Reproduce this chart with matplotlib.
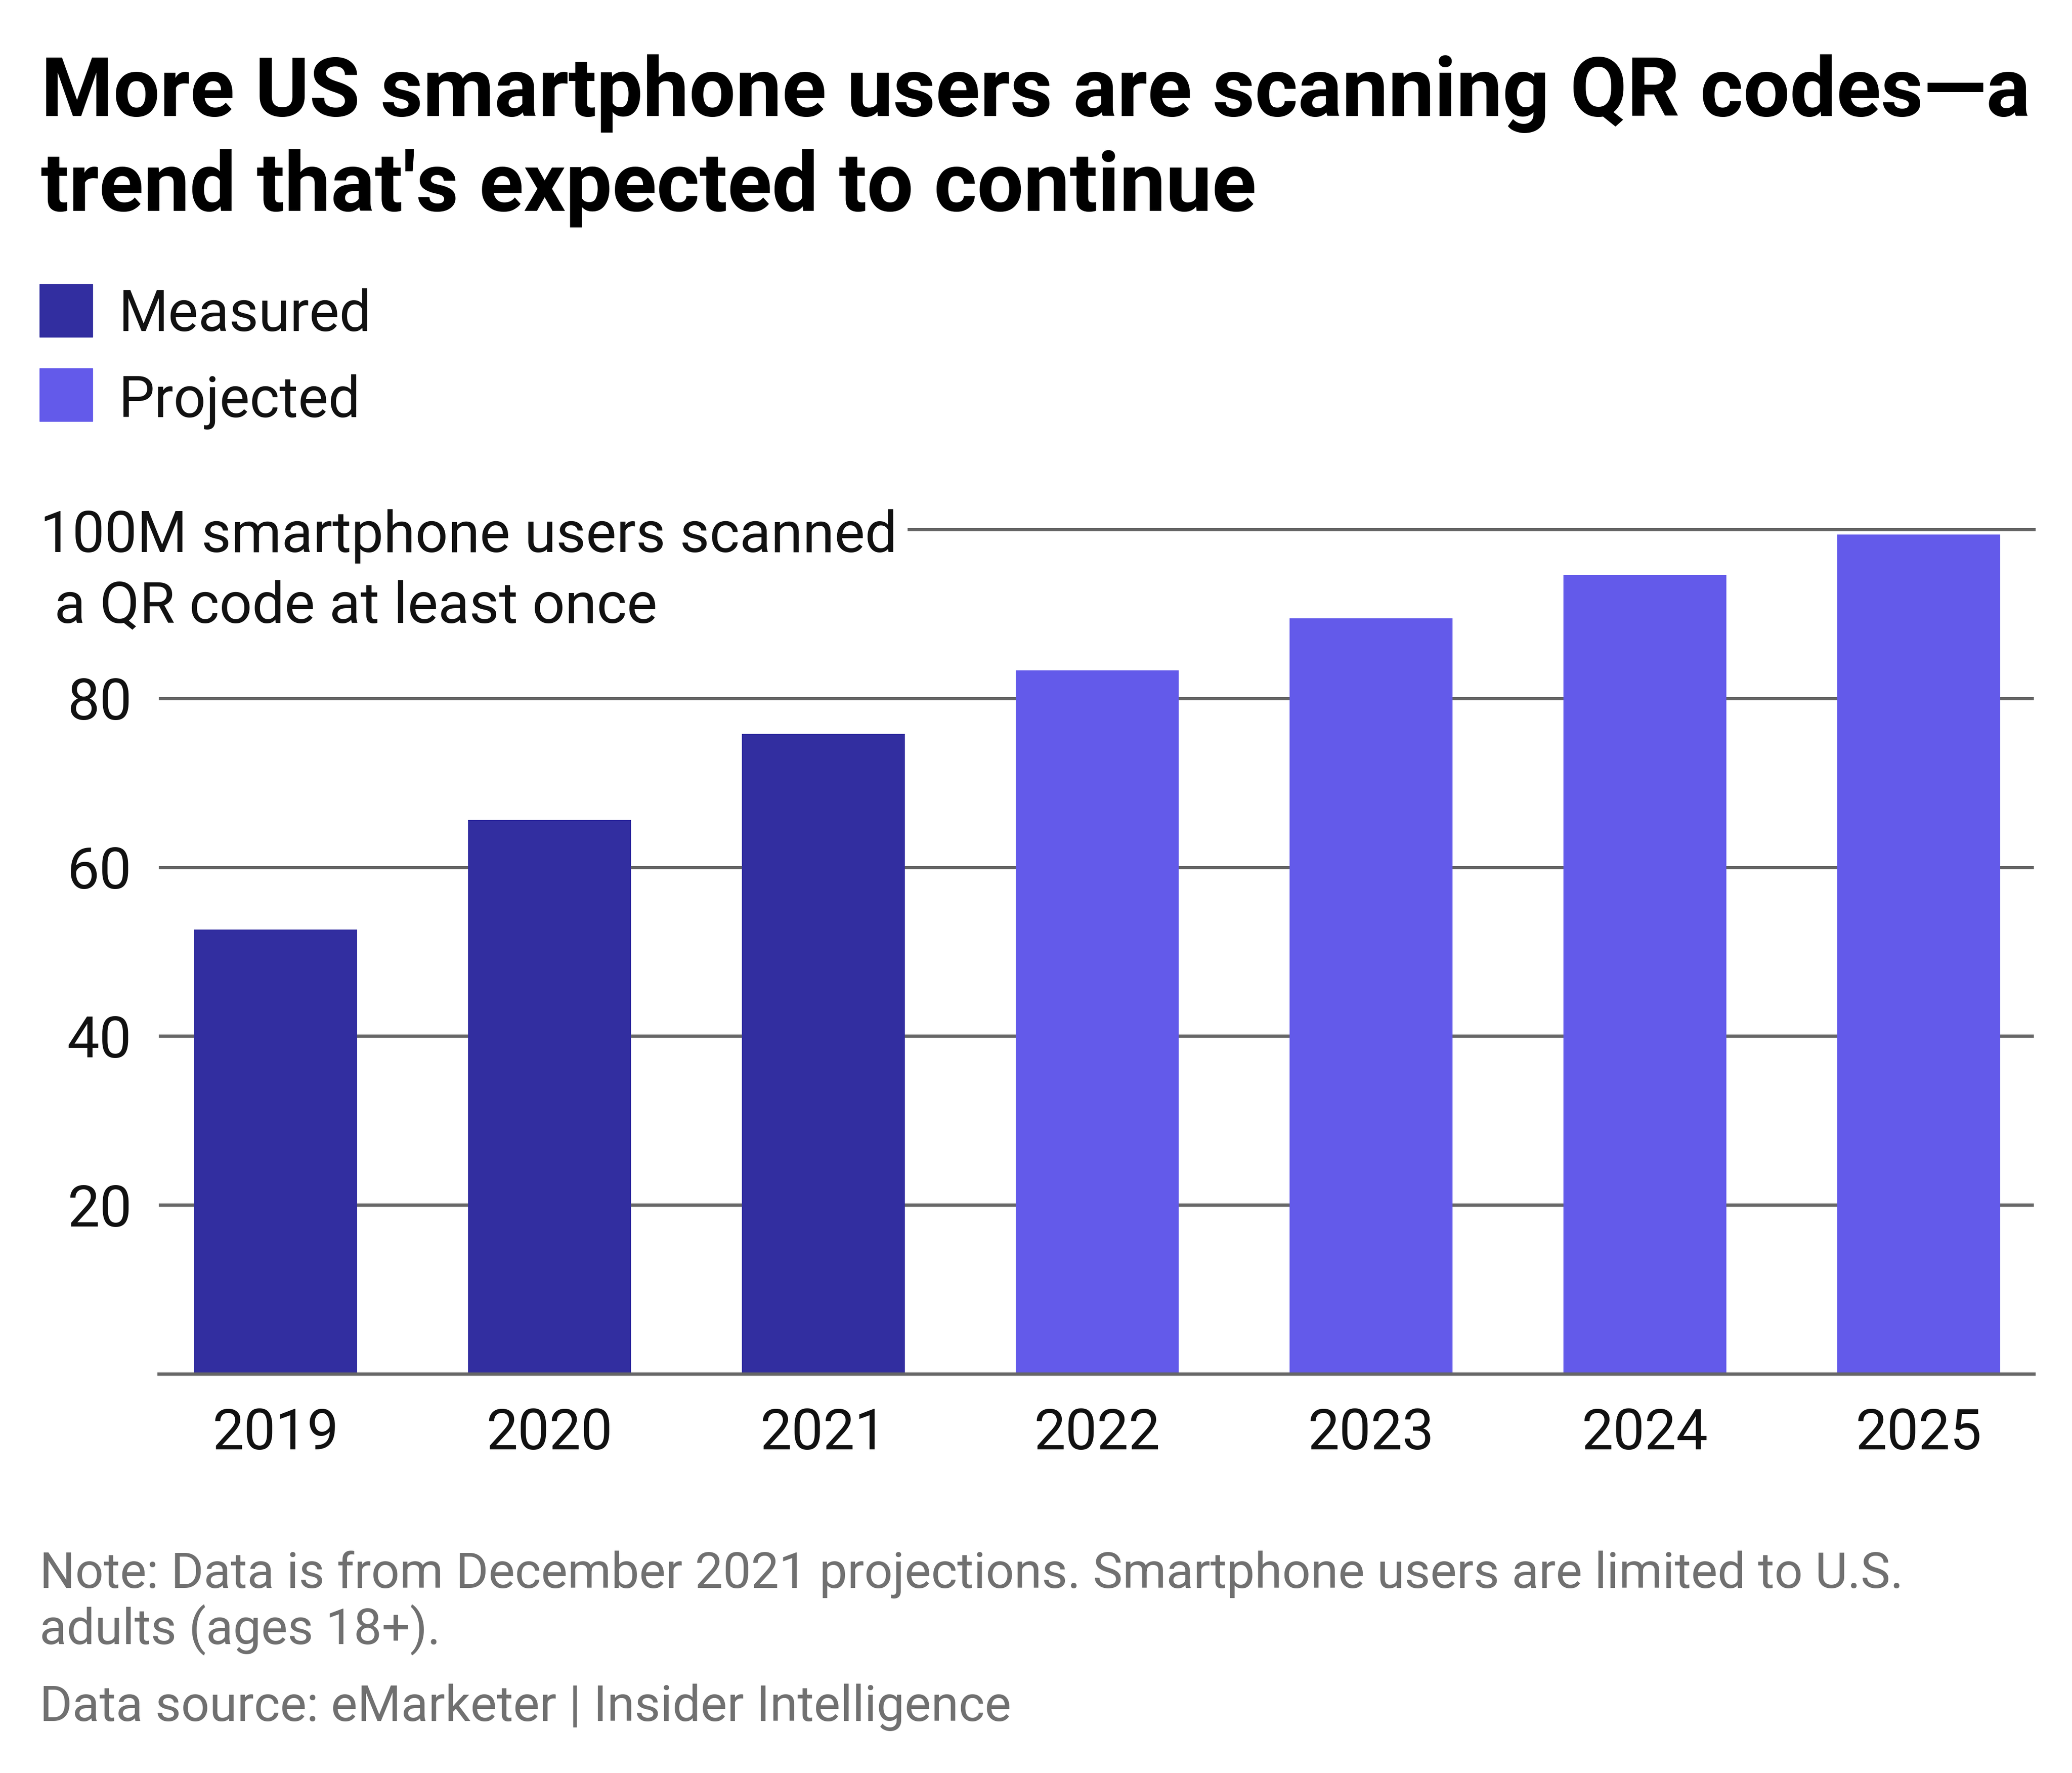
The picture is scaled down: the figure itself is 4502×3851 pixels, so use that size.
import matplotlib
matplotlib.use("Agg")
import matplotlib.pyplot as plt
from matplotlib.patches import Rectangle

plt.rcParams['font.family'] = ['Roboto', 'DejaVu Sans']

# data (million US smartphone users scanning a QR code)
years = ['2019', '2020', '2021', '2022', '2023', '2024', '2025']
users = [52.6, 65.6, 75.8, 83.3, 89.5, 94.6, 99.4]
kind = ['Measured', 'Measured', 'Measured', 'Projected', 'Projected', 'Projected', 'Projected']
ytick_vals = [20, 40, 60, 80]

colors = {'Measured': '#322ea0', 'Projected': '#635aea'}
grid_col = '#666666'

W, H = 4502, 3851
fig = plt.figure(figsize=(W / 100, H / 100), dpi=100)


def fx(px):
    return px / W


def fy(py):
    return 1 - py / H


# axes placed in pixel coords of the reference
ax_l, ax_r, ax_b, ax_t = 345, 4419, 2984, 1150
ax = fig.add_axes([fx(ax_l), fy(ax_b), fx(ax_r - ax_l), (ax_b - ax_t) / H])

x = list(range(len(years)))
ax.bar(x, users, width=0.595, color=[colors[k] for k in kind], zorder=3)

# gridlines
for v in ytick_vals:
    ax.axhline(v, color=grid_col, lw=5, zorder=1)
ax.axhline(100, xmin=(1975 - ax_l) / (ax_r - ax_l), xmax=1, color=grid_col, lw=5, zorder=1, clip_on=False)
ax.axhline(0, color=grid_col, lw=5, zorder=4, clip_on=False)

ax.set_xlim(-0.427, 6.42)
ax.set_ylim(0, 100)
for s in ax.spines.values():
    s.set_visible(False)

ax.set_xticks(x)
ax.set_xticklabels(years, fontsize=88, color='#111111')
ax.set_yticks(ytick_vals)
ax.set_yticklabels([str(v) for v in ytick_vals], fontsize=90, color='#111111')
ax.tick_params(axis='x', length=0, pad=52)
ax.tick_params(axis='y', length=0, pad=42)

# top gridline label
ax.text(fx(87), fy(1199), '100M smartphone users scanned', transform=fig.transFigure,
        fontsize=90, color='#111111', va='baseline', ha='left')
ax.text(fx(87), fy(1352), ' a QR code at least once', transform=fig.transFigure,
        fontsize=90, color='#111111', va='baseline', ha='left')

# title
fig.text(fx(89), fy(252), 'More US smartphone users are scanning QR codes\u2014a',
         fontsize=129, weight='bold', color='black', va='baseline')
fig.text(fx(89), fy(458), "trend that's expected to continue",
         fontsize=129, weight='bold', color='black', va='baseline')

# legend
for label, top, base in [('Measured', 617, 719), ('Projected', 800, 906)]:
    fig.patches.append(Rectangle((fx(86), fy(top + 115)), fx(115), 115 / H,
                                 transform=fig.transFigure, color=colors[label]))
    fig.text(fx(258), fy(base), label, fontsize=89, color='#111111', va='baseline')

# footnotes
note_col = '#707070'
fig.text(fx(86), fy(3449), 'Note: Data is from December 2021 projections. Smartphone users are limited to U.S.',
         fontsize=78, color=note_col, va='baseline')
fig.text(fx(86), fy(3571), 'adults (ages 18+).', fontsize=78, color=note_col, va='baseline')
fig.text(fx(86), fy(3738), 'Data source: eMarketer | Insider Intelligence', fontsize=78, color=note_col, va='baseline')

fig.savefig('out.png', dpi=100, facecolor='white')
